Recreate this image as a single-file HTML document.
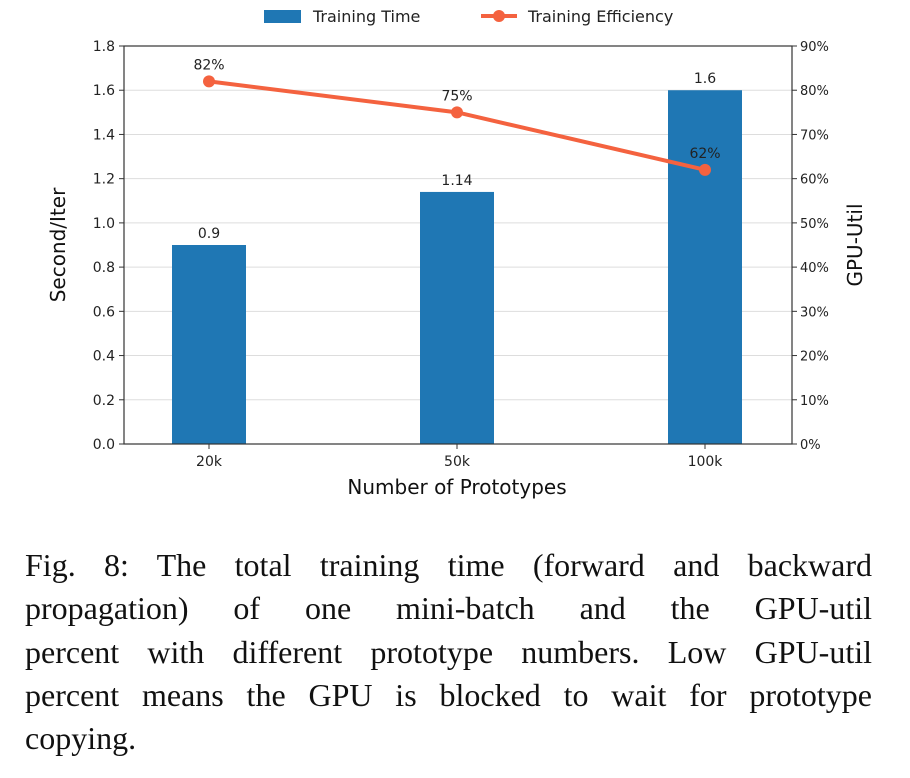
<!DOCTYPE html>
<html><head><meta charset="utf-8"><style>
body{margin:0;background:#fff;width:910px;height:778px;overflow:hidden;position:relative}
svg text{font-family:"DejaVu Sans","Liberation Sans",sans-serif}
#cap{position:absolute;left:25px;top:544px;width:847px;font-family:"Liberation Serif",serif;font-size:32px;line-height:43.3px;color:#111}
#cap div{text-align:justify;text-align-last:justify;white-space:nowrap;height:43.3px}
#cap div.last{text-align-last:left}
</style></head><body>
<svg width="910" height="530" id="chart"></svg>
<div id="cap">
<div>Fig. 8: The total training time (forward and backward</div>
<div>propagation) of one mini-batch and the GPU-util</div>
<div>percent with different prototype numbers. Low GPU-util</div>
<div>percent means the GPU is blocked to wait for prototype</div>
<div class="last">copying.</div>
</div>
<script>
const categories=["20k","50k","100k"];
const timeValues=[0.9,1.14,1.6];
const utilValues=[82,75,62];
const leftTicks=[0,0.2,0.4,0.6,0.8,1.0,1.2,1.4,1.6,1.8];
const rightTicks=[0,10,20,30,40,50,60,70,80,90];
const NS="http://www.w3.org/2000/svg";
const svg=document.getElementById('chart');
const L=124,R=792,T=46,B=444;
const yL=v=>B-(v/1.8)*(B-T);
const yR=v=>B-(v/90)*(B-T);
const xC=i=>209+i*248;
function mk(tag,a,txt){const e=document.createElementNS(NS,tag);for(const k in a)e.setAttribute(k,a[k]);if(txt!==undefined)e.textContent=txt;svg.appendChild(e);return e;}
leftTicks.forEach(t=>{
 const g=mk('line',{x1:L,x2:R,y1:yL(t),y2:yL(t),stroke:'#ddd','stroke-width':1});
 
 
 const tk=mk('line',{x1:L-5,x2:L,y1:yL(t),y2:yL(t),stroke:'#333'});
 
 
 const lb=mk('text',{x:L-9,y:yL(t)+5,'text-anchor':'end','font-size':14,fill:'#222'},t.toFixed(1));
 
 
});
rightTicks.forEach(t=>{
 const tk=mk('line',{x1:R,x2:R+5,y1:yR(t),y2:yR(t),stroke:'#333'});
 
 
 const lb=mk('text',{x:R+8,y:yR(t)+5,'font-size':13,fill:'#222'},t+'%');
 
 
});
categories.forEach((c,i)=>{
 const b=mk('rect',{x:xC(i)-37,y:yL(timeValues[i]),width:74,height:B-yL(timeValues[i]),fill:'#1f77b4'});
 
 
 const v=mk('text',{x:xC(i),y:yL(timeValues[i])-7,'text-anchor':'middle','font-size':14,fill:'#222'},String(timeValues[i]));
 
 
 const tk=mk('line',{x1:xC(i),x2:xC(i),y1:B,y2:B+5,stroke:'#333'});
 
 
 const xl=mk('text',{x:xC(i),y:B+22,'text-anchor':'middle','font-size':14,fill:'#222'},c);
 
 
});
const frame=mk('rect',{x:L,y:T,width:R-L,height:B-T,fill:'none',stroke:'#333','stroke-width':1.2});


const line=mk('polyline',{points:utilValues.map((v,i)=>xC(i)+','+yR(v)).join(' '),fill:'none',stroke:'#f4623f','stroke-width':4});


utilValues.forEach((v,i)=>{
 const p=mk('circle',{cx:xC(i),cy:yR(v),r:6,fill:'#f4623f'});
 
 
 const l=mk('text',{x:xC(i),y:yR(v)-12,'text-anchor':'middle','font-size':14,fill:'#222'},v+'%');
 
 
});
let t;
t=mk('text',{x:457,y:494,'text-anchor':'middle','font-size':20,fill:'#111'},'Number of Prototypes');


t=mk('text',{x:0,y:0,'text-anchor':'middle','font-size':20,fill:'#111',transform:'translate(65,245) rotate(-90)'},'Second/Iter');


t=mk('text',{x:0,y:0,'text-anchor':'middle','font-size':20,fill:'#111',transform:'translate(862,245) rotate(-90)'},'GPU-Util');


t=mk('rect',{x:264,y:10,width:37,height:13,fill:'#1f77b4'});


t=mk('text',{x:313,y:22,'font-size':16,fill:'#222'},'Training Time');


t=mk('line',{x1:481,x2:517,y1:16,y2:16,stroke:'#f4623f','stroke-width':4});


t=mk('circle',{cx:499,cy:16,r:6,fill:'#f4623f'});


t=mk('text',{x:528,y:22,'font-size':16,fill:'#222'},'Training Efficiency');


</script>
</body></html>
